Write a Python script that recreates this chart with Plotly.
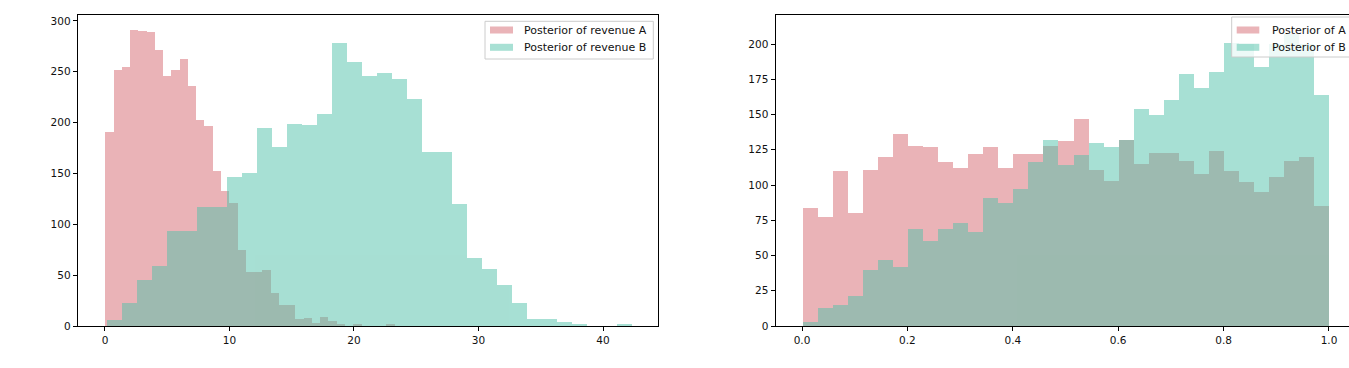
import plotly.graph_objects as go

# ---------------- data ----------------
# Left panel: posterior of revenue, histogram counts per bin
revenue_a_counts = [191, 252, 255, 291, 290, 289, 271, 246, 252, 263,
                    236, 203, 197, 152, 133, 121, 75, 53, 53, 55,
                    32, 21, 21, 7, 8, 3, 9, 5, 2, 0,
                    1, 0, 0, 0, 1]
revenue_a_bin_start = 0.0
revenue_a_bin_width = 0.664

revenue_b_counts = [6, 23, 45, 59, 93, 93, 117, 117, 147, 150,
                    195, 176, 199, 198, 208, 278, 260, 246, 249, 243,
                    223, 171, 171, 120, 67, 56, 40, 23, 7, 7,
                    4, 1, 0, 0, 1]
revenue_b_bin_start = 0.1
revenue_b_bin_width = 1.205

# Right panel: posterior of A and B (35 bins on [0, 1])
post_a_counts = [84, 77, 110, 80, 111, 120, 136, 128, 127, 116,
                 112, 122, 127, 112, 122, 122, 128, 131, 147, 111,
                 103, 132, 115, 123, 123, 117, 108, 124, 110, 102,
                 95, 106, 117, 120, 85]
post_b_counts = [3, 13, 15, 21, 40, 47, 42, 69, 60, 69,
                 73, 67, 91, 87, 97, 116, 132, 114, 121, 130,
                 127, 132, 154, 150, 160, 179, 169, 180, 201, 200,
                 184, 200, 207, 200, 164]
post_bin_start = 0.0
post_bin_width = 1.0 / 35

left_x_ticks = [0, 10, 20, 30, 40]
left_y_ticks = [0, 50, 100, 150, 200, 250, 300]
right_x_ticks = [0.0, 0.2, 0.4, 0.6, 0.8, 1.0]
right_y_ticks = [0, 25, 50, 75, 100, 125, 150, 175, 200]

left_legend_labels = ["Posterior of revenue A", "Posterior of revenue B"]
right_legend_labels = ["Posterior of A", "Posterior of B"]

# ---------------- styling ----------------
W, H = 1349, 368
COLOR_A = "rgb(213,105,113)"
COLOR_B = "rgb(81,193,169)"
FONT = "DejaVu Sans"


def px(x):
    return x / W


def py(y):
    return 1 - y / H


def centers(start, width, n):
    return [start + width * (i + 0.5) for i in range(n)]


fig = go.Figure()

fig.add_trace(go.Bar(
    x=centers(revenue_a_bin_start, revenue_a_bin_width, len(revenue_a_counts)),
    y=revenue_a_counts, width=revenue_a_bin_width,
    marker=dict(color=COLOR_A, line=dict(width=0)), opacity=0.5,
    name=left_legend_labels[0], xaxis="x", yaxis="y", showlegend=False))
fig.add_trace(go.Bar(
    x=centers(revenue_b_bin_start, revenue_b_bin_width, len(revenue_b_counts)),
    y=revenue_b_counts, width=revenue_b_bin_width,
    marker=dict(color=COLOR_B, line=dict(width=0)), opacity=0.5,
    name=left_legend_labels[1], xaxis="x", yaxis="y", showlegend=False))
fig.add_trace(go.Bar(
    x=centers(post_bin_start, post_bin_width, len(post_a_counts)),
    y=post_a_counts, width=post_bin_width,
    marker=dict(color=COLOR_A, line=dict(width=0)), opacity=0.5,
    name=right_legend_labels[0], xaxis="x2", yaxis="y2", showlegend=False))
fig.add_trace(go.Bar(
    x=centers(post_bin_start, post_bin_width, len(post_b_counts)),
    y=post_b_counts, width=post_bin_width,
    marker=dict(color=COLOR_B, line=dict(width=0)), opacity=0.5,
    name=right_legend_labels[1], xaxis="x2", yaxis="y2", showlegend=False))

axis_common = dict(
    showline=True, linecolor="black", linewidth=1,
    ticks="outside", ticklen=4, tickwidth=1, tickcolor="black",
    showgrid=False, zeroline=False, automargin=False,
    tickfont=dict(family=FONT, size=10.5, color="#111111"),
)

ydom = [py(326), py(15)]

fig.update_layout(
    template="none",
    width=W, height=H,
    margin=dict(l=0, r=0, t=0, b=0, pad=0, autoexpand=False),
    paper_bgcolor="white", plot_bgcolor="white",
    barmode="overlay", bargap=0,
    showlegend=False,
    xaxis=dict(domain=[px(77.7), px(658.3)], range=[-2.19, 44.44], anchor="y",
               mirror=True, tickvals=left_x_ticks, **axis_common),
    yaxis=dict(domain=ydom, range=[0, 305.8], anchor="x",
               mirror=True, tickvals=left_y_ticks, **axis_common),
    xaxis2=dict(domain=[px(775.5), 1.0], range=[-0.0503, 1.038], anchor="y2",
                mirror=True, tickvals=right_x_ticks, tickformat=".1f", **axis_common),
    yaxis2=dict(domain=ydom, range=[0, 220.6], anchor="x2",
                mirror=False, tickvals=right_y_ticks, **axis_common),
)

# ---------------- legends (matplotlib style) ----------------
shapes = []
annotations = []


def add_legend(box, swatch_x, text_x, rows, labels):
    x0, y0, x1, y1 = box
    shapes.append(dict(type="rect", xref="paper", yref="paper", layer="above",
                       x0=px(x0), x1=px(x1), y0=py(y1), y1=py(y0),
                       fillcolor="rgba(255,255,255,0.8)",
                       line=dict(color="#cccccc", width=1)))
    for row_y, color, label in zip(rows, [COLOR_A, COLOR_B], labels):
        shapes.append(dict(type="rect", xref="paper", yref="paper", layer="above",
                           x0=px(swatch_x[0]), x1=px(swatch_x[1]),
                           y0=py(row_y + 3.5), y1=py(row_y - 3.5),
                           fillcolor=color, opacity=0.5, line=dict(width=0)))
        annotations.append(dict(xref="paper", yref="paper", x=px(text_x), y=py(row_y),
                                xanchor="left", yanchor="middle", showarrow=False,
                                text=label,
                                font=dict(family=FONT, size=11, color="#111111")))


add_legend((485, 21.3, 653.3, 59), (490, 513), 521.5, [30, 47.3], left_legend_labels)
add_legend((1231.7, 17, 1400, 57), (1236.7, 1259.3), 1269.5, [30, 47.3], right_legend_labels)

fig.update_layout(shapes=shapes, annotations=annotations)

# remove the page's default body margin so the figure fills the window
fig.write_html(
    "out.html",
    config={"displayModeBar": False},
    post_script="document.body.style.margin='0';"
                "document.documentElement.style.overflow='hidden';",
)
